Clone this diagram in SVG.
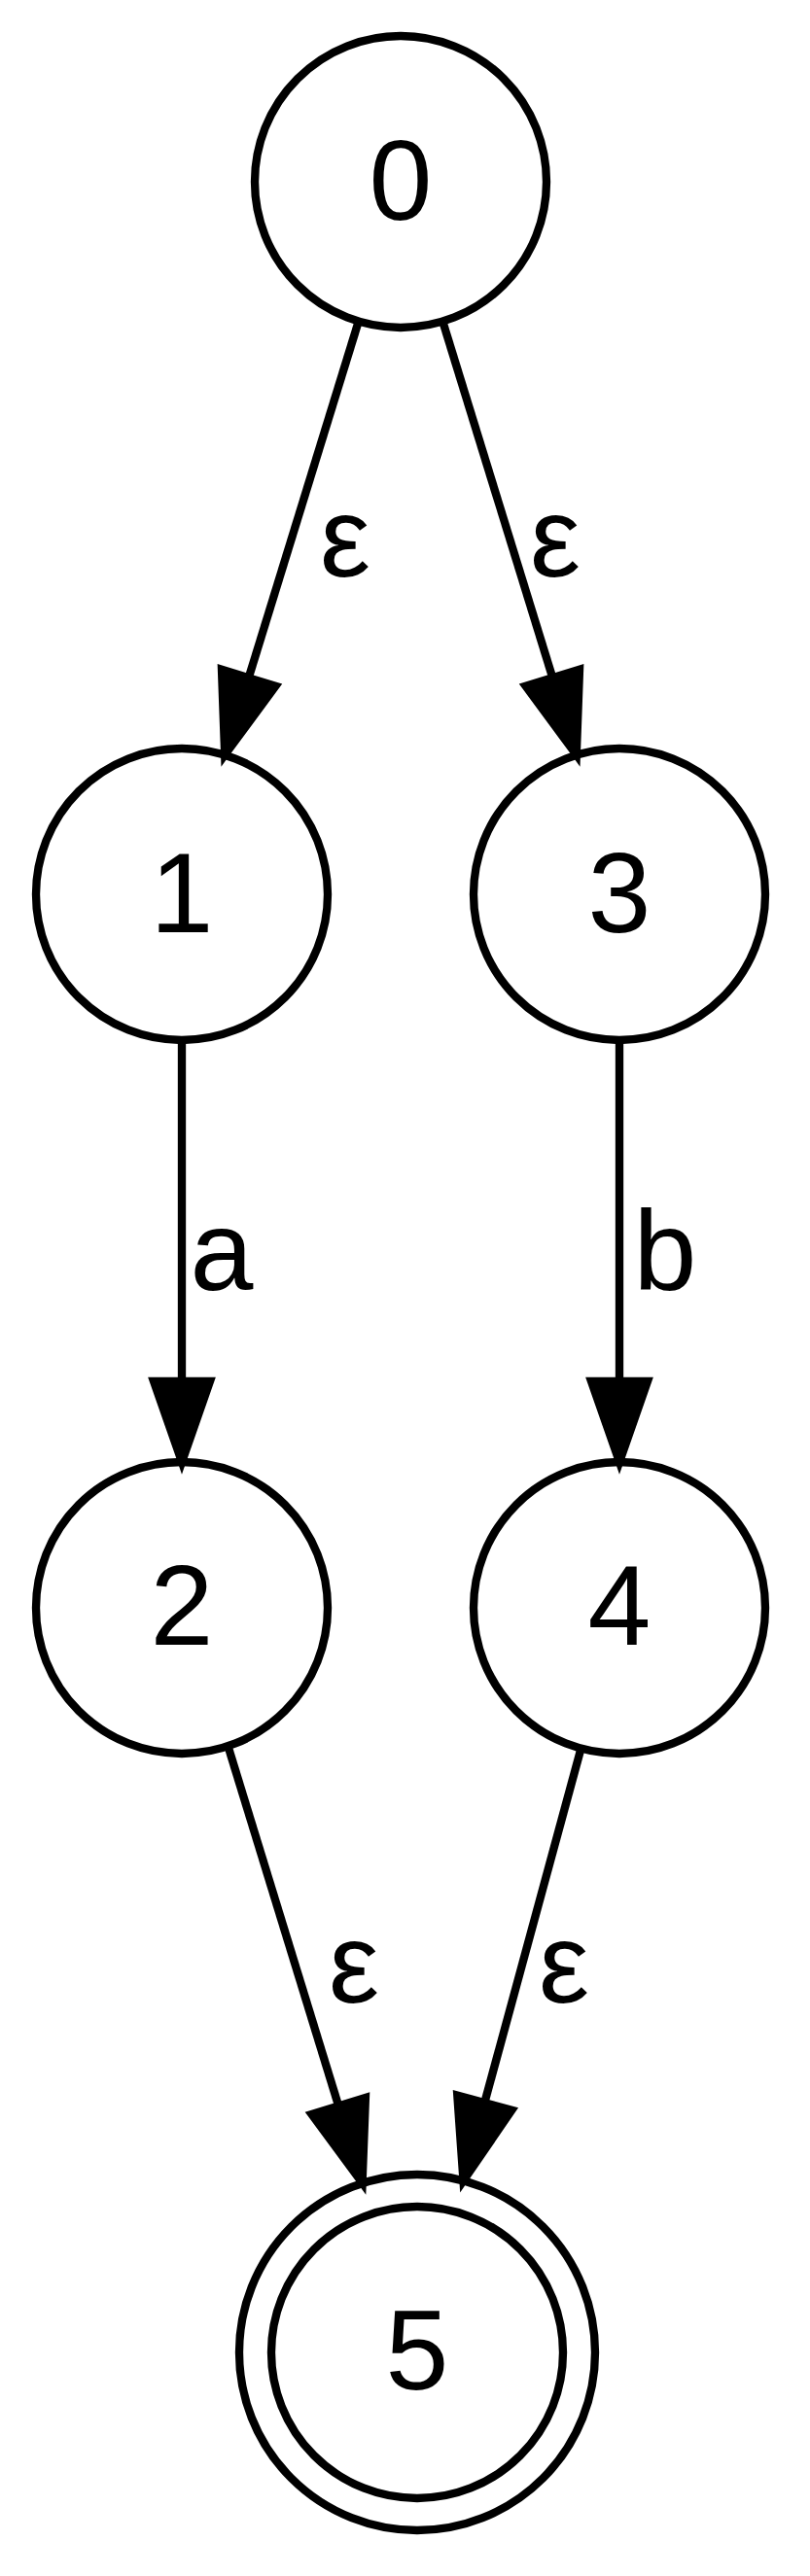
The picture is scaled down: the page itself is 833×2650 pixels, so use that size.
<svg xmlns="http://www.w3.org/2000/svg" width="833" height="2650" viewBox="0 0 833 2650">
<style>
.n{fill:none;stroke:#000;stroke-width:8.33}
.e{fill:none;stroke:#000;stroke-width:8.33}
.h{fill:#000;stroke:#000;stroke-width:8.33}
text{font-family:"Liberation Sans",Arial,sans-serif;font-size:116.7px;fill:#000;text-anchor:middle}
</style>
<rect width="833" height="2650" fill="#fff"/>
<g id="edges">
<g id="e0_1"><path class="e" d="M368,333 L255.7,697.3"/><polygon class="h" points="231.2,776.6 283.4,705.8 228,688.8"/><text x="355" y="593">ε</text></g>
<g id="e0_3"><path class="e" d="M456,333 L568.3,697.3"/><polygon class="h" points="592.8,776.6 540.6,705.8 596,688.8"/><text x="571" y="593">ε</text></g>
<g id="e1_2"><path class="e" d="M187,1070 L187,1421"/><polygon class="h" points="187,1504 158,1421 216,1421"/><text x="228" y="1327">a</text></g>
<g id="e3_4"><path class="e" d="M637,1070 L637,1421"/><polygon class="h" points="637,1504 608,1421 666,1421"/><text x="684" y="1327">b</text></g>
<g id="e2_5"><path class="e" d="M235,1798 L348.2,2166.5"/><polygon class="h" points="372.6,2245.8 375.9,2158 320.5,2175"/><text x="364" y="2060">ε</text></g>
<g id="e4_5"><path class="e" d="M596.7,1801.7 L498.3,2163.2"/><polygon class="h" points="476.5,2243.3 526.3,2170.8 470.3,2155.6"/><text x="580" y="2060">ε</text></g>
</g>
<g id="node0"><circle class="n" cx="412" cy="187" r="150"/><text x="412" y="226">0</text></g>
<g id="node1"><circle class="n" cx="187" cy="920" r="150"/><text x="187" y="959">1</text></g>
<g id="node3"><circle class="n" cx="637" cy="920" r="150"/><text x="637" y="959">3</text></g>
<g id="node2"><circle class="n" cx="187" cy="1654" r="150"/><text x="187" y="1692">2</text></g>
<g id="node4"><circle class="n" cx="637" cy="1654" r="150"/><text x="637" y="1692">4</text></g>
<g id="node5"><circle class="n" cx="429" cy="2420" r="150"/><circle class="n" cx="429" cy="2420" r="183"/><text x="429" y="2458">5</text></g>
</svg>
